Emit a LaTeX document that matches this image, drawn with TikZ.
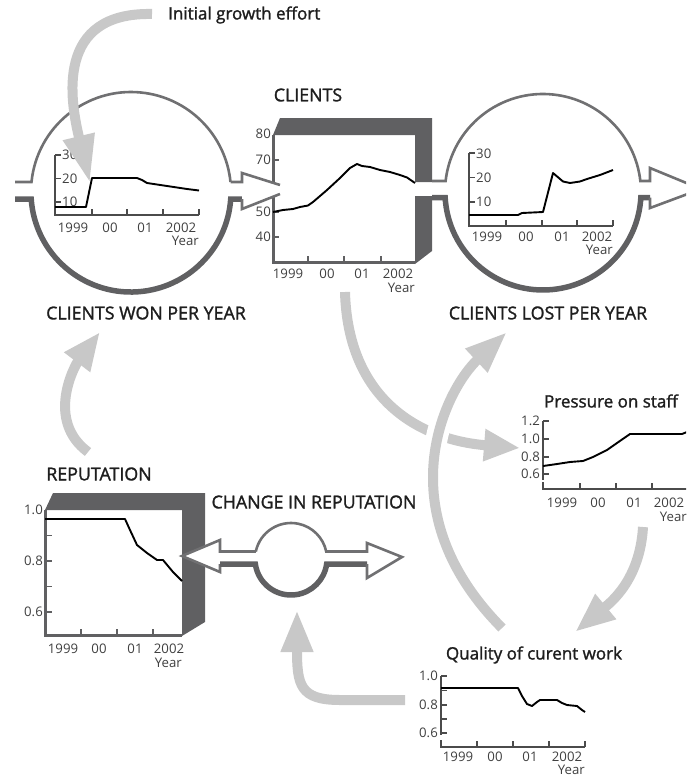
\documentclass[tikz,border=0pt]{standalone}
\usepackage{fontspec}
\setmainfont{Open Sans}
\newfontfamily\headfont{Open Sans}[FakeBold=1.5]
\usetikzlibrary{arrows.meta}

\definecolor{linkgray}{RGB}{200,200,200}
\definecolor{pipegray}{RGB}{112,112,114}
\definecolor{darkgray}{RGB}{96,96,98}
\definecolor{inkgray}{RGB}{30,30,30}

\tikzset{
	headline/.style={font=\headfont\fontsize{17.8}{20}\selectfont, text=inkgray, inner sep=0pt},
	plotname/.style={font=\headfont\fontsize{17}{19}\selectfont, text=inkgray, inner sep=0pt},
	ticknum/.style={font=\fontsize{13.2}{15}\selectfont, text=inkgray!85, inner sep=0pt},
	plotaxis/.style={draw=inkgray!80, line width=1.3pt},
	series/.style={draw=black, line width=1.9pt, line join=round},
	pipe/.style={draw=pipegray, line width=2.6pt, line join=miter},
	pipethick/.style={draw=darkgray, line width=5.5pt},
	band/.style={fill=darkgray},
	feedback/.style={draw=linkgray, line width=10pt, -{Triangle[length=#1, width=30pt]}},
	feedback/.default=40pt
}

\begin{document}
\begin{tikzpicture}[x=1pt,y=-1pt]
	\useasboundingbox (0,0) rectangle (686,776);
	\clip (0,0) rectangle (686,776);

	% clients won per year
	\begin{scope}
	\draw[plotaxis] (55,155) -- (55,215) -- (199,215);
	\foreach \y in {155,178.5,202} \draw[plotaxis] (55,\y) -- (61,\y);
	\foreach \x in {92,127,163,199} \draw[plotaxis] (\x,215) -- (\x,209);
	\foreach \v/\y in {30/155,20/178.5,10/202} \node[ticknum, anchor=west] (won\v) at (62,\y) {\v};
	\foreach \t/\x in {1999/73,00/110,01/145,2002/181} \node[ticknum] (wonyr\t) at (\x,228) {\t};
	\node[ticknum, anchor=east] (wonyear) at (199,241) {Year};
	\draw[series] (55,207) -- (86,207) -- (92,178) -- (137,178) -- (142,180) -- (147,183) -- (157,184.5) -- (167,186) -- (177,187.5) -- (187,189) -- (199,190.5);
	\draw[pipe] (15,182) -- (31.5,182) arc[start angle=185.74, end angle=354.26, radius=100];
	\draw[pipethick] (15,199) -- (31.2,199) arc[start angle=176, end angle=4, radius=100] -- (242,199);
	\node[headline] (won) at (146,313) {CLIENTS WON PER YEAR};
	\end{scope}

	% clients
	\begin{scope}
	\fill[band] (280,118) -- (432,118) -- (432,182) -- (415,182) -- (415,135) -- (273,135) -- cycle;
	\fill[band] (415,196) -- (432,196) -- (432,251) -- (415,264) -- cycle;
	\draw[plotaxis, draw=darkgray, line width=3pt] (273,135) -- (273,262) -- (415,262);
	\foreach \y in {160,212,237} \draw[plotaxis, draw=darkgray] (273,\y) -- (279,\y);
	\foreach \x in {308,344,381} \draw[plotaxis, draw=darkgray] (\x,262) -- (\x,256);
	\foreach \v/\y in {80/134,70/160,50/212,40/237} \node[ticknum, anchor=east] (cl\v) at (271,\y) {\v};
	\foreach \t/\x in {1999/288,00/327,01/362,2002/398} \node[ticknum] (clyr\t) at (\x,274) {\t};
	\node[ticknum, anchor=east] (clyear) at (415,288) {Year};
	\draw[series] (273,212) -- (283,210) -- (293,209) -- (300,207) -- (308,205.5) -- (313,202) -- (327,190) -- (340,178) -- (350,168) -- (357,164) -- (362,166) -- (370,167) -- (380,170) -- (390,172) -- (400,175) -- (407,177.5) -- (415,183);
	\node[headline] (clients) at (308,95) {CLIENTS};
	\end{scope}

	% inflow arrow
	\fill[white] (242,182) -- (242,173) -- (280,185) -- (280,194) -- (242,209) -- (242,199) -- cycle;
	\draw[pipe] (230.5,182) -- (242,182) -- (242,173) -- (280,185);
	\draw[pipe] (242,199) -- (242,209) -- (280,194);

	% clients lost per year
	\begin{scope}
	\draw[plotaxis] (469,153) -- (469,226) -- (613,226);
	\foreach \y in {153,177.5,202} \draw[plotaxis] (469,\y) -- (475,\y);
	\foreach \x in {506,542,577,613} \draw[plotaxis] (\x,226) -- (\x,220);
	\foreach \v/\y in {30/154,20/177.5,10/202} \node[ticknum, anchor=west] (lost\v) at (476,\y) {\v};
	\foreach \t/\x in {1999/487,00/526,01/562,2002/597} \node[ticknum] (lostyr\t) at (\x,237) {\t};
	\node[ticknum, anchor=east] (lostyear) at (613,250) {Year};
	\draw[series] (469,215) -- (518,215) -- (522,213) -- (543,212) -- (553,173) -- (563,181.5) -- (570,183) -- (580,181.5) -- (587,179) -- (600,175) -- (613,170);
	\draw[pipe] (432,181) -- (445.6,181) arc[start angle=186.44, end angle=353.56, radius=98] -- (650,181) -- (650,168) -- (701,189);
	\draw[pipethick] (432,197.5) -- (445.15,197.5) arc[start angle=176.78, end angle=3.22, radius=98] -- (650,197.5);
	\draw[pipe] (650,197.5) -- (650,208) -- (701,189);
	\node[headline] (lost) at (548,313) {CLIENTS LOST PER YEAR};
	\end{scope}

	% pressure on staff
	\begin{scope}
	\draw[plotaxis] (543,421) -- (543,480);
	\draw[plotaxis] (543,482) -- (543,489) -- (690,489);
	\foreach \y in {421,439,457,474} \draw[plotaxis] (543,\y) -- (549,\y);
	\foreach \x in {580,616,652} \draw[plotaxis] (\x,489) -- (\x,483);
	\foreach \v/\y in {1.2/421,1.0/439,0.8/457,0.6/474} \node[ticknum, anchor=east] (pr\v) at (540,\y) {\v};
	\foreach \t/\x in {1999/562,00/598,01/634,2002/669} \node[ticknum] (pryr\t) at (\x,503) {\t};
	\node[ticknum, anchor=east] (pryear) at (687,517) {Year};
	\draw[series] (543,466) -- (557,464) -- (570,462) -- (583,461) -- (593,457) -- (607,450) -- (617,443) -- (630,434) -- (682,434) -- (687,432);
	\node[plotname] (pressure) at (611,401) {Pressure on staff};
	\end{scope}

	% reputation
	\begin{scope}
	\fill[band] (53,493) -- (205,493) -- (205,622) -- (182,636) -- (182,510) -- (45,510) -- cycle;
	\draw[plotaxis, draw=darkgray, line width=3pt] (45,510) -- (45,635) -- (182,635);
	\foreach \y in {535.5,561,586.5,612} \draw[plotaxis, draw=darkgray] (45,\y) -- (52,\y);
	\foreach \x in {81,117,153} \draw[plotaxis, draw=darkgray] (\x,635) -- (\x,629);
	\foreach \v/\y in {1.0/510,0.8/561,0.6/612} \node[ticknum, anchor=east] (rep\v) at (43,\y) {\v};
	\foreach \t/\x in {1999/63,00/99,01/135,2002/169} \node[ticknum] (repyr\t) at (\x,649) {\t};
	\node[ticknum, anchor=east] (repyear) at (182,663) {Year};
	\draw[series] (45,519) -- (125,519) -- (130,530) -- (137,545) -- (147,553) -- (157,560) -- (163,560) -- (173,572) -- (182,581);
	\node[headline] (reputation) at (99,474) {REPUTATION};
	\end{scope}

	% change in reputation
	\begin{scope}
	\fill[white] (220,551.5) -- (220,540) -- (182,556) -- (220,572) -- (220,564) -- cycle;
	\draw[pipe] (255.8,551.5) -- (220,551.5) -- (220,540) -- (182,556) -- (220,572) -- (220,564);
	\draw[pipethick] (220,564) -- (255.35,564) arc[start angle=172.02, end angle=7.98, radius=36] -- (367,564);
	\draw[pipe] (255.8,551.5) arc[start angle=192.02, end angle=347.98, radius=36] -- (367,551.5) -- (367,543) -- (402,557) -- (367,578) -- (367,564);
	\node[headline] (change) at (314,502) {CHANGE IN REPUTATION};
	\end{scope}

	% quality of current work
	\begin{scope}
	\draw[plotaxis] (441,676) -- (441,735);
	\draw[plotaxis] (441,740) -- (441,747) -- (585,747);
	\foreach \y in {676,690.5,705,719,733} \draw[plotaxis] (441,\y) -- (447,\y);
	\foreach \x in {477,513,549,585} \draw[plotaxis] (\x,747) -- (\x,741);
	\foreach \v/\y in {1.0/676,0.8/705,0.6/733} \node[ticknum, anchor=east] (q\v) at (438,\y) {\v};
	\foreach \t/\x in {1999/458,00/495,01/530,2002/567} \node[ticknum] (qyr\t) at (\x,756.5) {\t};
	\node[ticknum, anchor=east] (qyear) at (585,769.5) {Year};
	\draw[series] (441,688) -- (518,688) -- (522,696) -- (527,704) -- (532,706) -- (537,702) -- (540,700) -- (557,700) -- (562,703) -- (567,705) -- (577,706) -- (582,710) -- (585,712);
	\node[plotname] (quality) at (534,655) {Quality of curent work};
	\end{scope}

	% links
	\node[plotname, anchor=west] (effort) at (168,15) {Initial growth effort};
	\coordinate (e0) at (152,14);
	\coordinate (e1) at (90,183);
	\draw[feedback=48pt] (e0) .. controls (55,12) and (70,100) .. (e1);
	\coordinate (c0) at (345,292);
	\coordinate (c1) at (520,448);
	\draw[feedback=36pt] (c0) .. controls (348,400) and (420,440) .. (c1);
	\coordinate (q0) at (502,628);
	\coordinate (q1) at (507,332);
	\draw[white, line width=22pt, shorten >=45pt] (q0) .. controls (385,510) and (445,390) .. (q1);
	\draw[feedback=42pt] (q0) .. controls (385,510) and (445,390) .. (q1);
	\coordinate (p0) at (643,527);
	\coordinate (p1) at (575,632);
	\draw[feedback] (p0) .. controls (640,580) and (610,603) .. (p1);
	\coordinate (w0) at (405,700);
	\coordinate (w1) at (297,610);
	\draw[feedback=42pt] (w0) -- (340,700) .. controls (300,700) and (297,685) .. (w1);
	\coordinate (r0) at (88,452);
	\coordinate (r1) at (100,332);
	\draw[feedback=38pt] (r0) .. controls (45,420) and (75,365) .. (r1);
\end{tikzpicture}
\end{document}
